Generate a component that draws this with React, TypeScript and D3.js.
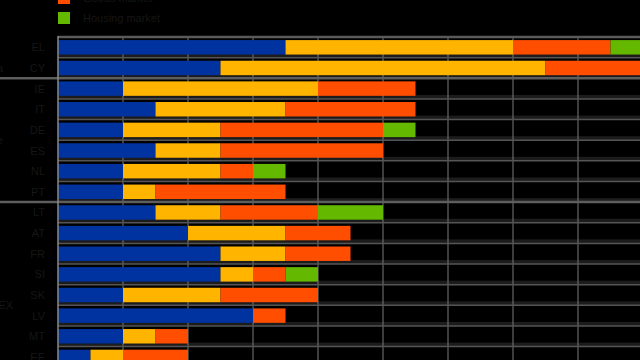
import React from "react";
import * as d3 from "d3";

const categories = ["EL", "CY", "IE", "IT", "DE", "ES", "NL", "PT", "LT", "AT", "FR", "SI", "SK", "LV", "MT", "EE"];
const labour = [7, 5, 2, 3, 2, 3, 2, 2, 3, 4, 5, 5, 2, 6, 2, 1];
const financial = [7, 10, 6, 4, 3, 2, 3, 1, 2, 3, 2, 1, 3, 0, 1, 1];
const goods = [3, 3, 3, 4, 5, 5, 1, 4, 3, 2, 2, 1, 3, 1, 1, 2];
const housing = [1, 0, 0, 0, 1, 0, 1, 0, 2, 0, 0, 1, 0, 0, 0, 0];
const seriesNames = ["Labour market", "Financial market", "Goods market", "Housing market"];
const seriesColors = ["#0033a0", "#ffb400", "#ff4e00", "#65b800"];
const groupNames = ["Euro area", "Programme", "Other EX"];
const groupEnds = [2, 8, 18];
const groupLabelRows = [1.5, 5, 13];

const W = 640;
const H = 360;

export default function App() {
  const left = 58;
  const unit = 32.5;
  const top = 37;
  const step = 20.64;
  const x = d3.scaleLinear().domain([0, 18]).range([left, left + 18 * unit]);
  const rowY = d3.scaleLinear().domain([0, 16]).range([top, top + 16 * step]);
  const y = d3
    .scaleBand<number>()
    .domain(d3.range(categories.length))
    .range([top, top + categories.length * step])
    .paddingInner(0.3)
    .paddingOuter(0.15);

  const table = categories.map((c, i) => ({
    cat: c,
    [seriesNames[0]]: labour[i],
    [seriesNames[1]]: financial[i],
    [seriesNames[2]]: goods[i],
    [seriesNames[3]]: housing[i],
  }));
  const stacked = d3.stack<any>().keys(seriesNames)(table);
  const ticks = d3.range(2, 19, 2);
  const textColor = "#161616";

  return (
    <svg
      width={W}
      height={H}
      style={{ position: "fixed", left: 0, top: 0, background: "#000", display: "block" }}
      fontFamily="Liberation Sans, Arial, sans-serif"
    >
      <rect x={0} y={0} width={W} height={H} fill="#000" />
      {/* legend (only the last entries fall inside the frame) */}
      {seriesNames.map((n, i) => {
        const ly = -48 + i * 20;
        if (ly < -12) return null;
        return (
          <g key={n}>
            <rect x={58} y={ly} width={12} height={12} fill={seriesColors[i]} />
            <text x={83} y={ly + 10} fontSize={11} fill={textColor}>
              {n}
            </text>
          </g>
        );
      })}
      {/* row bands */}
      {categories.map((c, i) => (
        <rect key={"band" + i} x={left} y={rowY(i + 1) - 4} width={W - left} height={4} fill="#1c1c1c" />
      ))}
      {/* vertical grid */}
      {ticks.map((t) => (
        <line key={t} x1={x(t)} x2={x(t)} y1={top - 1} y2={H} stroke="#7a7a7a" strokeWidth={1} />
      ))}
      {/* row boundary lines */}
      {d3.range(1, categories.length + 1).map((i) => (
        <line key={"rl" + i} x1={left} x2={W} y1={rowY(i)} y2={rowY(i)} stroke="#555" strokeWidth={1.5} />
      ))}
      {/* bars */}
      {stacked.map((s, si) =>
        s.map((d, i) =>
          d[1] > d[0] ? (
            <rect
              key={si + "-" + i}
              x={x(d[0])}
              y={y(i)}
              width={x(d[1]) - x(d[0])}
              height={y.bandwidth()}
              fill={seriesColors[si]}
            />
          ) : null
        )
      )}
      {/* top line and group separators */}
      <line x1={left} x2={W} y1={top} y2={top} stroke="#5a5a5a" strokeWidth={2.5} />
      {groupEnds.map((e, gi) =>
        e < 17 ? (
          <line key={"gs" + gi} x1={0} x2={W} y1={rowY(e)} y2={rowY(e)} stroke="#5e5e5e" strokeWidth={2.5} />
        ) : null
      )}
      {/* axis */}
      <line x1={left} x2={left} y1={top - 1} y2={H} stroke="#8a8a8a" strokeWidth={1.5} />
      {/* category labels */}
      {categories.map((c, i) => (
        <text
          key={"cl" + i}
          x={45}
          y={(y(i) as number) + y.bandwidth() / 2 + 4}
          fontSize={11}
          textAnchor="end"
          fill={textColor}
        >
          {c}
        </text>
      ))}
      {/* group labels */}
      {groupNames.map((g, gi) => (
        <text
          key={"gl" + gi}
          x={gi === 2 ? 13 : 3}
          y={rowY(groupLabelRows[gi]) + 4}
          fontSize={11}
          textAnchor="end"
          fill={textColor}
        >
          {g}
        </text>
      ))}
    </svg>
  );
}
